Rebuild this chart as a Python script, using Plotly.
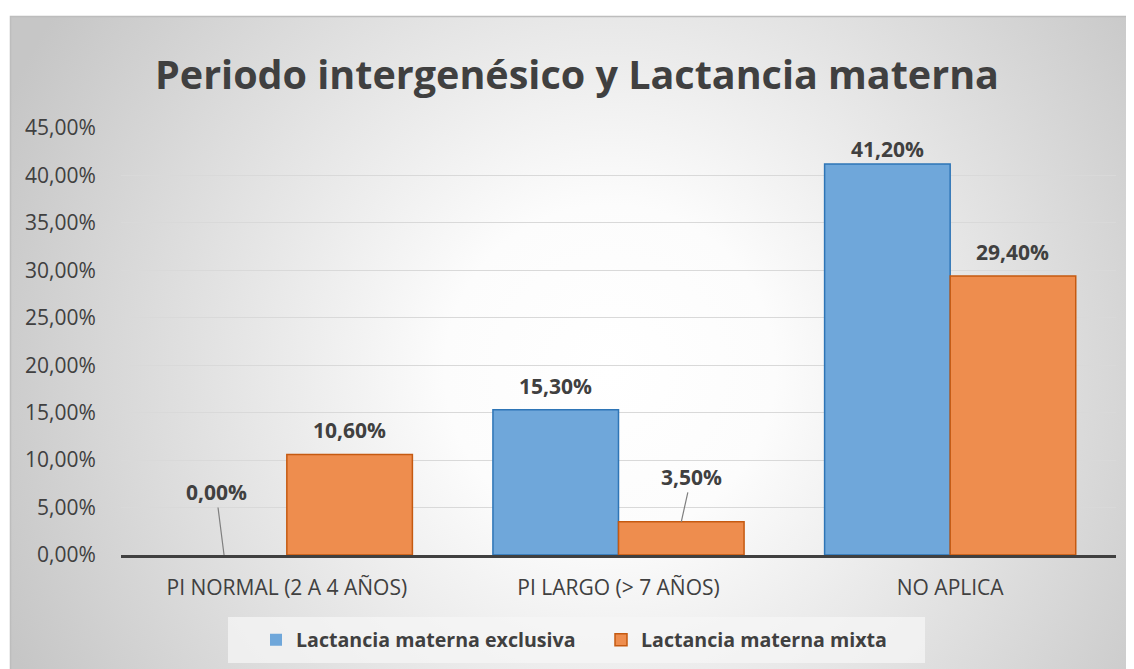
import base64

import plotly.graph_objects as go

categories = ['PI NORMAL (2 A 4 AÑOS)', 'PI LARGO (> 7 AÑOS)', 'NO APLICA']
exclusiva = [0.0, 15.3, 41.2]
mixta = [10.6, 3.5, 29.4]
series_names = ['Lactancia materna exclusiva', 'Lactancia materna mixta']

W, H = 1134, 669
OFF = 8  # page body margin
L, T = 121 - OFF, 128 - OFF
PW, PH = 995, 427
R, B = W - L - PW, H - T - PH
BAR_W = 0.3786
TEXT = '#404040'
FONT = 'Open Sans'


def pct(v):
    return f'{v:.2f}'.replace('.', ',') + '%'


def px_x(page_x):
    return (page_x - OFF - L) / PW


def px_y(page_y):
    return (T + PH - (page_y - OFF)) / PH


# radial gradient background with frame, as an svg image
svg = f'''<svg xmlns="http://www.w3.org/2000/svg" width="{W}" height="{H}" viewBox="0 0 {W} {H}">
<defs><radialGradient id="g" gradientUnits="userSpaceOnUse" cx="{610 - OFF}" cy="{370 - OFF}" r="660">
<stop offset="0" stop-color="#ffffff"/><stop offset="0.25" stop-color="#fcfcfc"/>
<stop offset="1" stop-color="#c6c6c6"/></radialGradient></defs>
<rect x="0" y="0" width="{W}" height="{H}" fill="#ffffff"/>
<rect x="{10.5 - OFF}" y="{16.5 - OFF}" width="{W + 20}" height="{H + 20}" fill="url(#g)" stroke="#bdbdbd" stroke-width="1.5"/>
</svg>'''
bg_src = 'data:image/svg+xml;base64,' + base64.b64encode(svg.encode()).decode()

fig = go.Figure()
fig.add_trace(go.Bar(
    x=list(range(len(categories))), y=exclusiva, name=series_names[0],
    width=BAR_W, offset=-BAR_W,
    marker=dict(color='#6fa7da',
                line=dict(color='#2e75b6', width=[0 if v == 0 else 1.5 for v in exclusiva])),
))
fig.add_trace(go.Bar(
    x=list(range(len(categories))), y=mixta, name=series_names[1],
    width=BAR_W, offset=0,
    marker=dict(color='#ee8d4e',
                line=dict(color='#c55a11', width=[0 if v == 0 else 1.5 for v in mixta])),
))

# data labels
leaders = {(0, 0): (-8, -63), (1, 1): (10, -45)}
shifts = {(0, 2): 15}
for s, vals in enumerate([exclusiva, mixta]):
    for i, v in enumerate(vals):
        xpos = i - BAR_W / 2 if s == 0 else i + BAR_W / 2
        font = dict(family=FONT, size=21, color=TEXT, weight='bold')
        if (s, i) in leaders:
            ax, ay = leaders[(s, i)]
            fig.add_annotation(x=xpos, y=v, text=pct(v), showarrow=True,
                               arrowhead=0, arrowwidth=1.2, arrowcolor='#7f7f7f',
                               ax=ax, ay=ay, font=font)
        else:
            fig.add_annotation(x=xpos, y=v, text=pct(v), showarrow=False,
                               yanchor='middle', yshift=shifts.get((s, i), 24), font=font)

# legend box
fig.add_shape(type='rect', xref='paper', yref='paper',
              x0=px_x(228), x1=px_x(925), y0=px_y(663), y1=px_y(617),
              fillcolor='rgba(245,245,245,0.75)', line=dict(width=0), layer='below')

fig.add_layout_image(source=bg_src, xref='paper', yref='paper',
                     x=-L / PW, y=(T + PH) / PH, sizex=W / PW, sizey=H / PH,
                     xanchor='left', yanchor='top', sizing='stretch', layer='below')

fig.update_layout(
    width=W, height=H,
    margin=dict(l=L, r=R, t=T, b=B),
    paper_bgcolor='white', plot_bgcolor='rgba(0,0,0,0)',
    separators=',.',
    barmode='overlay',
    font=dict(family=FONT, color=TEXT),
    title=dict(text='Periodo intergenésico y Lactancia materna',
               x=(577 - OFF) / W, xanchor='center', y=1 - (75 - OFF) / H, yanchor='middle',
               font=dict(family=FONT, size=39.5, color=TEXT, weight='bold')),
    legend=dict(orientation='h', x=px_x(256), xanchor='left',
                y=px_y(640), yanchor='middle', bgcolor='rgba(0,0,0,0)',
                itemwidth=30, entrywidth=300, entrywidthmode='pixels',
                font=dict(family=FONT, size=19.6, color=TEXT, weight='bold')),
    showlegend=True,
)
fig.update_xaxes(range=[-0.5, 2.5], tickvals=list(range(len(categories))), ticktext=categories,
                 showgrid=False, zeroline=False, showline=True, linecolor='#404040', linewidth=3,
                 layer='above traces',
                 ticks='outside', ticklen=12, tickcolor='rgba(0,0,0,0)',
                 tickfont=dict(family=FONT, size=21, color=TEXT))
fig.update_yaxes(range=[0, 45], dtick=5, tickformat='.2f', ticksuffix='%',
                 showgrid=True, gridcolor='#d9d9d9', gridwidth=1, zeroline=False,
                 ticks='outside', ticklen=20, tickcolor='rgba(0,0,0,0)',
                 tickfont=dict(family=FONT, size=21, color=TEXT))

fig.write_html('out.html')
